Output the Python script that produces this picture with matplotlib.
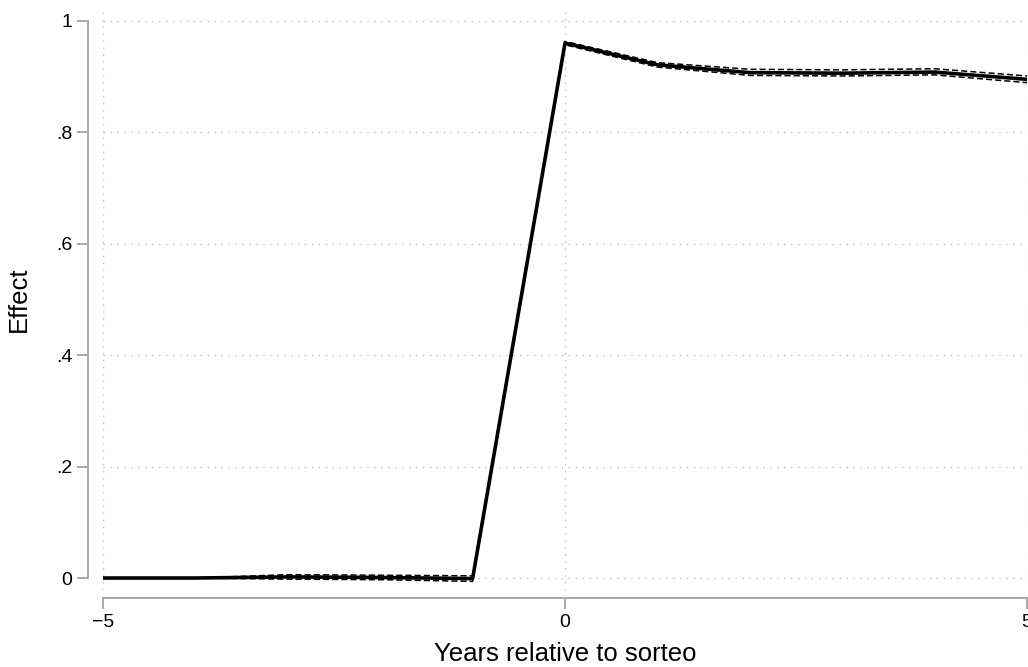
"""
Event-study plot: effect by years relative to sorteo, with confidence bands
"""

import matplotlib.pyplot as plt

plt.rcParams['font.family'] = ['Liberation Sans', 'DejaVu Sans']

# Event time and estimates
years = [-5, -4, -3, -2, -1, 0, 1, 2, 3, 4, 5]
effect = [0.0, 0.0, 0.002, 0.001, -0.001, 0.960, 0.921, 0.907, 0.906, 0.908, 0.895]
ci_upper = [0.0, 0.0, 0.006, 0.005, 0.004, 0.963, 0.925, 0.913, 0.912, 0.914, 0.901]
ci_lower = [0.0, 0.0, -0.002, -0.003, -0.006, 0.957, 0.917, 0.902, 0.901, 0.903, 0.889]

y_ticks = [0, 0.2, 0.4, 0.6, 0.8, 1.0]
y_labels = ['0', '.2', '.4', '.6', '.8', '1']
x_ticks = [-5, 0, 5]
x_labels = ['\u22125', '0', '5']

fig = plt.figure(figsize=(10.28, 6.67), dpi=100)
ax = fig.add_axes([103 / 1028, 77 / 667, 924 / 1028, 582 / 667])

# Confidence interval bounds (dashed) and point estimates (solid)
ax.plot(years, ci_upper, color='black', linestyle=(0, (4, 2)), linewidth=1.1)
ax.plot(years, ci_lower, color='black', linestyle=(0, (4, 2)), linewidth=1.1)
ax.plot(years, effect, color='black', linewidth=2.6)

ax.set_xlim(-5, 5)
ax.set_ylim(-0.0215, 1.023)

ax.set_xticks(x_ticks)
ax.set_xticklabels(x_labels)
ax.set_yticks(y_ticks)
ax.set_yticklabels(y_labels)

# Dotted grid lines at the ticks
ax.grid(True, linestyle=(0, (1, 4)), color='#bdbdbd', linewidth=1.0)

# Detached axes, Stata-like
for side in ['top', 'right']:
    ax.spines[side].set_visible(False)
ax.spines['left'].set_position(('outward', 11))
ax.spines['bottom'].set_position(('outward', 6))
ax.spines['left'].set_bounds(0, 1)
ax.spines['bottom'].set_bounds(-5, 5)
for side in ['left', 'bottom']:
    ax.spines[side].set_color('#a8a8a8')
    ax.spines[side].set_linewidth(1.4)

ax.tick_params(axis='both', colors='#a8a8a8', length=8, width=1.4,
               labelcolor='black', labelsize=14, pad=3)

ax.set_xlabel('Years relative to sorteo', fontsize=18.5, labelpad=8)
ax.set_ylabel('Effect', fontsize=18.5, labelpad=18)

plt.savefig('out.png', dpi=100)
